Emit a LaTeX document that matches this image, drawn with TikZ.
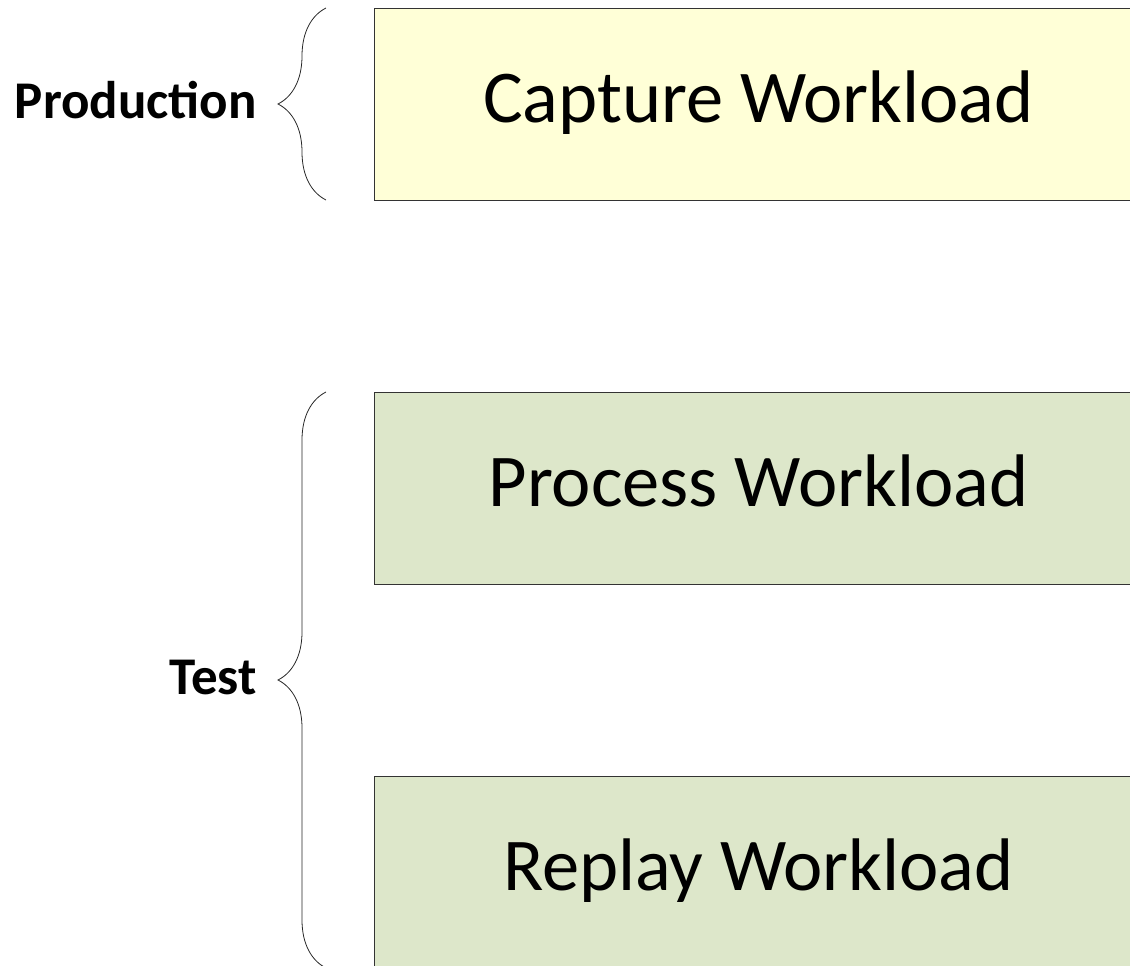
\documentclass[tikz,border=0pt]{standalone}
\usepackage{fontspec}
\setmainfont{Carlito}
\usetikzlibrary{decorations.pathreplacing}
\definecolor{prodfill}{HTML}{FFFFD7}
\definecolor{testfill}{HTML}{DDE7CA}
\tikzset{
	stepbox/.style={draw=black!80, line width=0.8pt, minimum width=768pt, minimum height=192pt, inner sep=0pt, anchor=north west, text height=37pt, text depth=0pt, font=\fontsize{74.5}{80}\selectfont},
	phase/.style={inner sep=0pt, anchor=base east, font=\fontsize{53}{60}\selectfont\bfseries},
	curly/.style={decorate, decoration={brace, amplitude=48pt}, line width=0.8pt, black!85}
}
\begin{document}
\begin{tikzpicture}[x=1pt, y=-1pt]
		%Rahmen
		\useasboundingbox (0,0) rectangle (1130,966);
		
		%Kaesten
		\node[stepbox, fill=prodfill] (capture) at (374,8) {Capture Workload};
		\node[stepbox, fill=testfill] (process) at (374,392) {Process Workload};
		\node[stepbox, fill=testfill] (replay) at (374,776) {Replay Workload};
		
		%Klammern
		\coordinate (prodtop) at (326,8);
		\coordinate (prodbot) at (326,200);
		\coordinate (testtop) at (326,392);
		\coordinate (testbot) at (326,968);
		\draw[curly] (prodbot) -- (prodtop);
		\draw[curly] (testbot) -- (testtop);
		
		%Beschriftung
		\node[phase] (production) at (257,118) {Production};
		\node[phase] (test) at (257,694) {Test};
\end{tikzpicture}
\end{document}
